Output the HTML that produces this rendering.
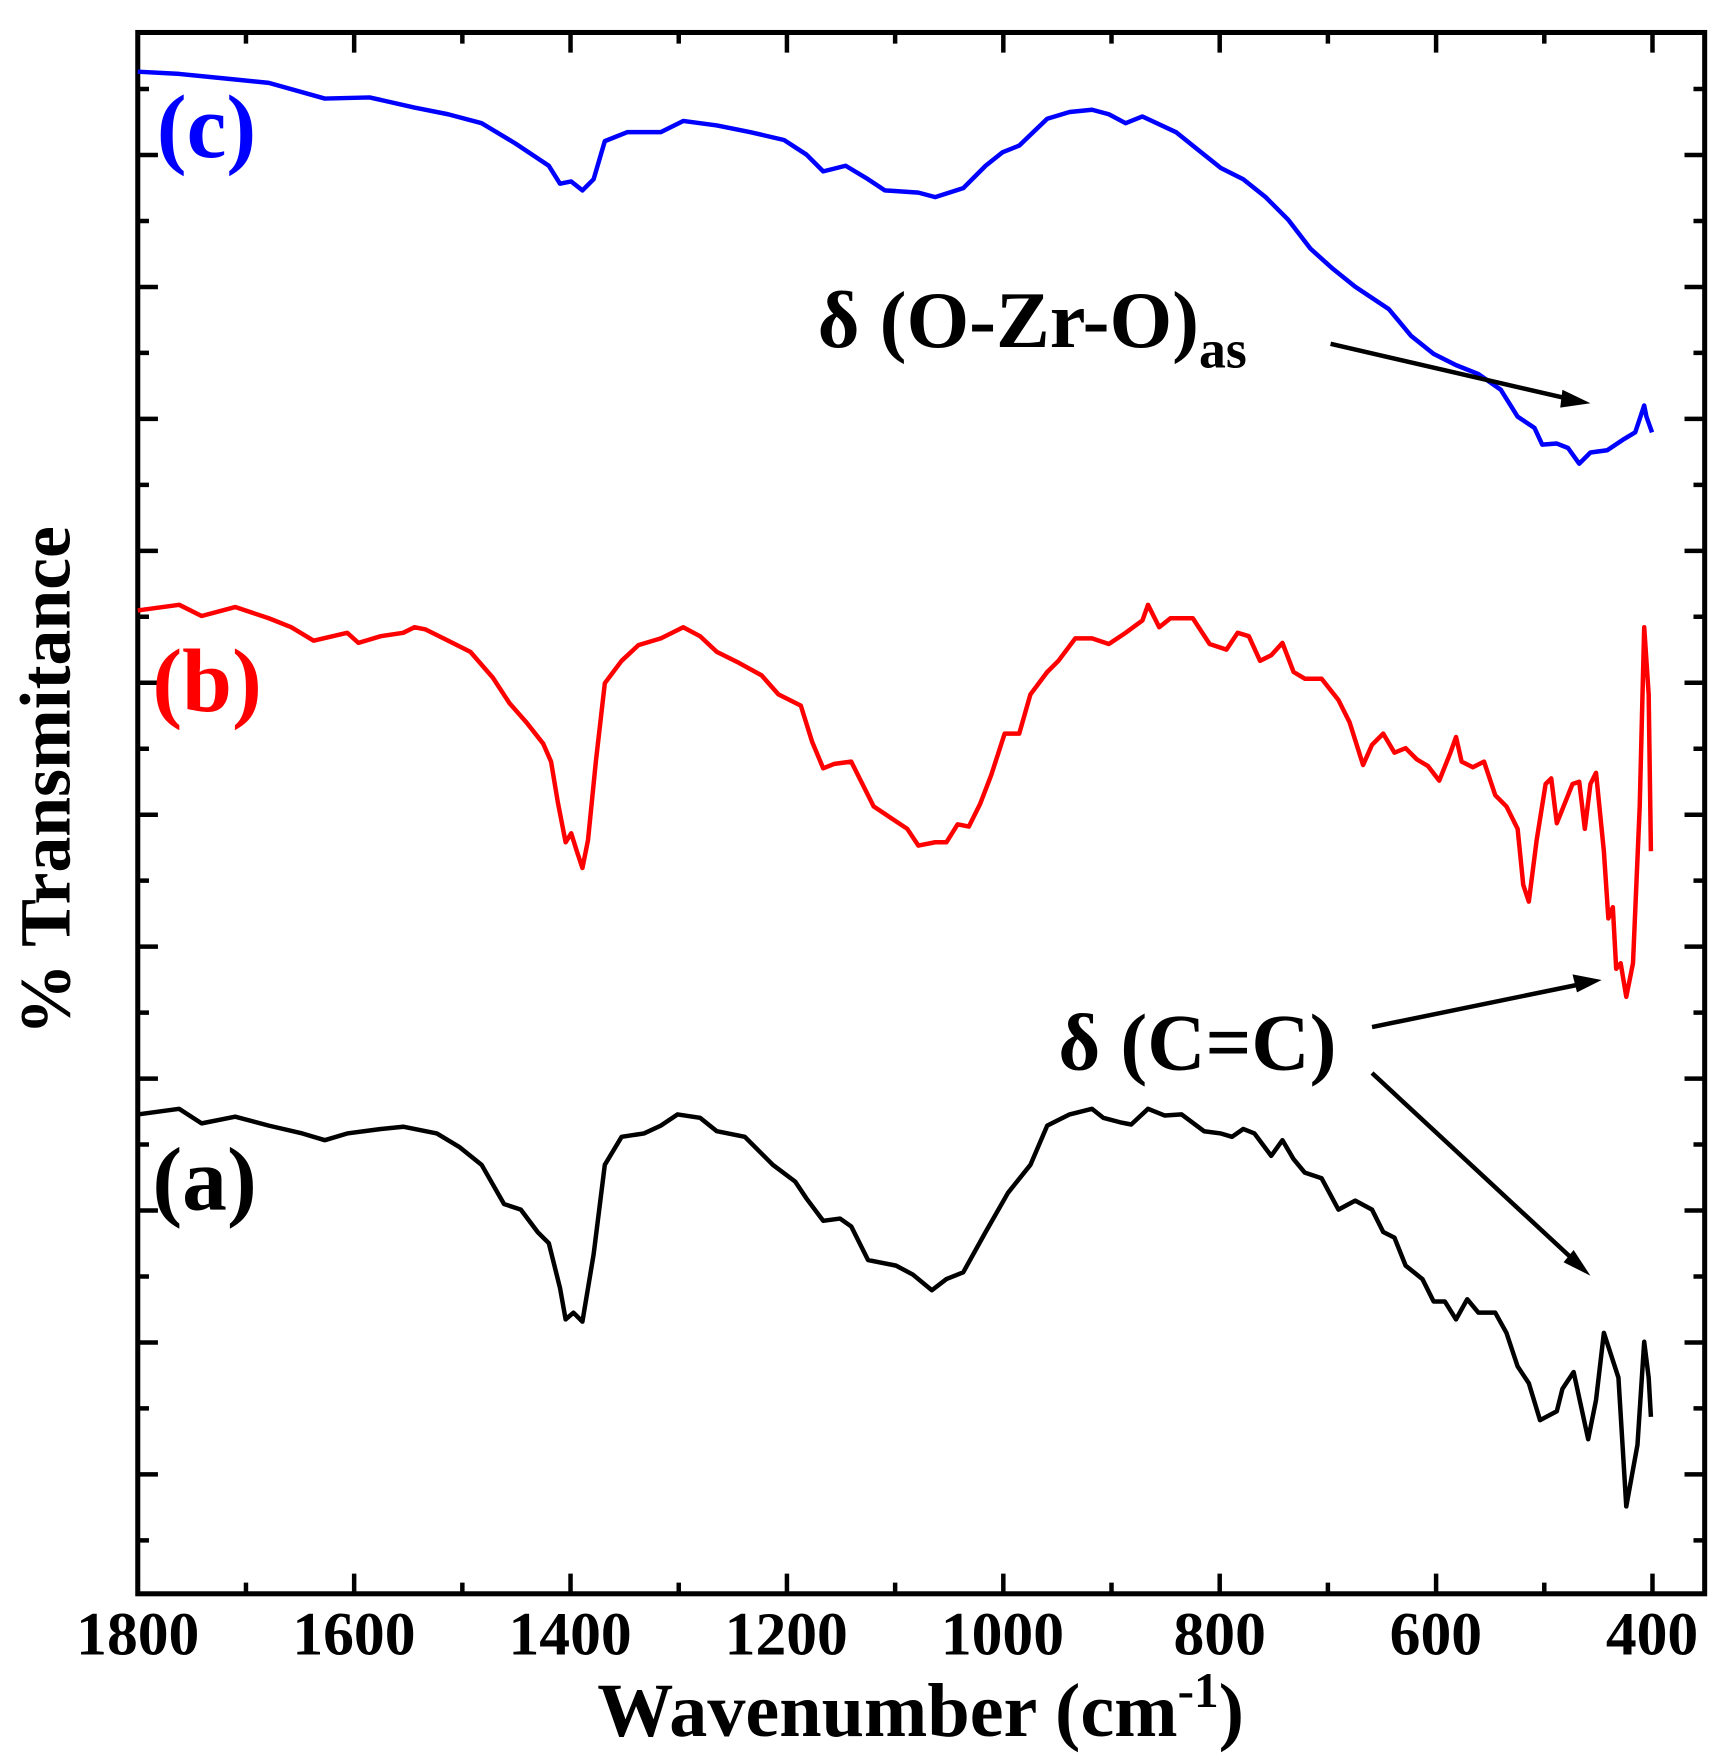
<!DOCTYPE html>
<html><head><style>html,body{margin:0;padding:0;background:#fff}svg{display:block}</style></head>
<body>
<svg width="1731" height="1760" viewBox="0 0 1545.5 1571.4" xmlns="http://www.w3.org/2000/svg" font-family="Liberation Serif, serif" font-weight="bold">
<rect x="123" y="29" width="1399" height="1394" stroke="#000" stroke-width="4.5" fill="none"/>
<path stroke="#000" stroke-width="4" fill="none" d="
M123,1423v-18M219.6,1423v-10M316.2,1423v-18M412.8,1423v-10M509.4,1423v-18M606,1423v-10M702.6,1423v-18M799.2,1423v-10M895.8,1423v-18M992.4,1423v-10M1089,1423v-18M1185.6,1423v-10M1282.2,1423v-18M1378.8,1423v-10M1475.4,1423v-18
M219.6,29v10M316.2,29v18M412.8,29v10M509.4,29v18M606,29v10M702.6,29v18M799.2,29v10M895.8,29v18M992.4,29v10M1089,29v18M1185.6,29v10M1282.2,29v18M1378.8,29v10M1475.4,29v18
M123,79.5h10M123,138.4h18M123,197.3h10M123,256.2h18M123,315.1h10M123,374h18M123,432.9h10M123,491.8h18M123,550.7h10M123,609.6h18M123,668.5h10M123,727.4h18M123,786.3h10M123,845.2h18M123,904.1h10M123,963h18M123,1021.9h10M123,1080.8h18M123,1139.7h10M123,1198.6h18M123,1257.5h10M123,1316.4h18M123,1375.3h10
M1522,79.5h-10M1522,138.4h-18M1522,197.3h-10M1522,256.2h-18M1522,315.1h-10M1522,374h-18M1522,432.9h-10M1522,491.8h-18M1522,550.7h-10M1522,609.6h-18M1522,668.5h-10M1522,727.4h-18M1522,786.3h-10M1522,845.2h-18M1522,904.1h-10M1522,963h-18M1522,1021.9h-10M1522,1080.8h-18M1522,1139.7h-10M1522,1198.6h-18M1522,1257.5h-10M1522,1316.4h-18M1522,1375.3h-10"/>
<g fill="none" stroke-width="4" stroke-linejoin="round">
<polyline stroke="#0000ff" points="123,64 160,66 200,70 240,74 290,88 330,87 370,96 400,102 430,110 460,128 490,148 500,164 510,162 520,170 530,160 540,126 560,118 590,118 610,108 640,112 670,118 700,125 720,138 735,153 755,148 775,160 790,170 820,172 835,176 860,168 880,148 895,136 910,130 935,106 955,100 975,98 990,102 1005,110 1020,104 1050,118 1070,134 1090,150 1110,160 1130,176 1150,196 1170,222 1190,240 1210,256 1240,276 1260,300 1280,316 1300,326 1320,334 1340,348 1355,372 1370,382 1377,397 1390,396 1400,400 1410,414 1420,404 1435,402 1450,392 1460,386 1468,362 1470,372 1475,386"/>
<polyline stroke="#ff0000" points="123,545 160,540 180,550 210,542 240,552 260,560 280,572 310,565 320,574 340,568 360,565 370,560 380,562 400,572 420,582 440,605 455,628 470,645 485,664 492,680 498,716 505,752 510,744 515,760 520,775 525,750 532,680 540,610 555,590 570,576 590,570 610,560 625,568 640,582 660,592 680,603 695,620 715,630 725,662 735,686 745,682 760,680 770,700 780,720 795,730 810,740 820,755 835,752 845,752 855,736 865,738 875,718 885,692 897,655 910,655 920,620 935,600 945,590 960,570 975,570 990,575 1005,565 1020,554 1025,540 1035,560 1045,552 1065,552 1080,575 1095,580 1105,565 1115,568 1125,590 1135,585 1145,574 1155,600 1165,606 1180,606 1195,625 1205,645 1217,683 1225,665 1235,655 1245,672 1255,668 1265,678 1275,684 1285,697 1295,672 1300,658 1305,680 1315,685 1325,680 1335,710 1345,720 1355,740 1360,790 1365,805 1372,750 1380,700 1385,695 1390,735 1396,720 1404,700 1410,698 1415,740 1420,700 1425,690 1432,760 1436,820 1440,810 1443,865 1447,860 1452,890 1458,860 1464,720 1468,560 1472,620 1474,760"/>
<polyline stroke="#000" points="123,995 160,990 180,1003 210,997 240,1005 270,1012 290,1018 310,1012 340,1008 360,1006 390,1012 410,1024 430,1040 450,1075 465,1080 480,1100 490,1110 500,1150 505,1178 512,1172 520,1180 530,1120 540,1040 555,1015 575,1012 590,1005 605,995 625,998 640,1010 665,1015 690,1040 710,1055 720,1070 735,1090 750,1088 760,1095 775,1125 800,1130 815,1138 832,1152 845,1142 860,1136 880,1100 900,1065 920,1040 935,1005 955,995 975,990 985,998 1000,1002 1010,1004 1025,990 1040,996 1055,995 1075,1010 1090,1012 1100,1015 1110,1008 1120,1012 1135,1032 1145,1018 1155,1035 1165,1047 1180,1052 1195,1080 1210,1072 1225,1080 1235,1100 1245,1105 1255,1130 1270,1142 1280,1162 1290,1162 1300,1178 1310,1160 1320,1172 1335,1172 1345,1190 1355,1220 1365,1235 1375,1268 1390,1260 1395,1240 1405,1225 1418,1285 1425,1250 1432,1190 1445,1230 1452,1345 1462,1290 1468,1198 1472,1230 1474,1265"/>
</g>
<g stroke="#000" stroke-width="4">
<line x1="1188" y1="307" x2="1400" y2="356"/>
<line x1="1225" y1="917" x2="1410" y2="879"/>
<line x1="1225" y1="958" x2="1405" y2="1125"/>
</g>
<g fill="#000">
<polygon points="1420,360 1395,348 1393,364"/>
<polygon points="1430,875 1404,870 1408,886"/>
<polygon points="1420,1139 1405,1116 1396,1127"/>
</g>
<text x="140" y="140" font-size="80" fill="#0000ff">(c)</text>
<text x="136" y="635" font-size="80" fill="#ff0000">(b)</text>
<text x="136" y="1080" font-size="80" fill="#000">(a)</text>
<text x="730" y="310" font-size="72">δ (O-Zr-O)<tspan font-size="48" dy="18">as</tspan></text>
<text x="945" y="955" font-size="72">δ (C=C)</text>
<g font-size="55" text-anchor="middle">
<text x="123" y="1477">1800</text><text x="316" y="1477">1600</text><text x="509" y="1477">1400</text><text x="702" y="1477">1200</text><text x="895" y="1477">1000</text><text x="1089" y="1477">800</text><text x="1282" y="1477">600</text><text x="1475" y="1477">400</text>
</g>
<text x="822" y="1550" font-size="68" text-anchor="middle">Wavenumber (cm<tspan font-size="44" dy="-26">-1</tspan><tspan dy="26">)</tspan></text>
<text transform="translate(62,697) rotate(-90)" font-size="64" text-anchor="middle">% Transmitance</text>
</svg>
</body></html>
